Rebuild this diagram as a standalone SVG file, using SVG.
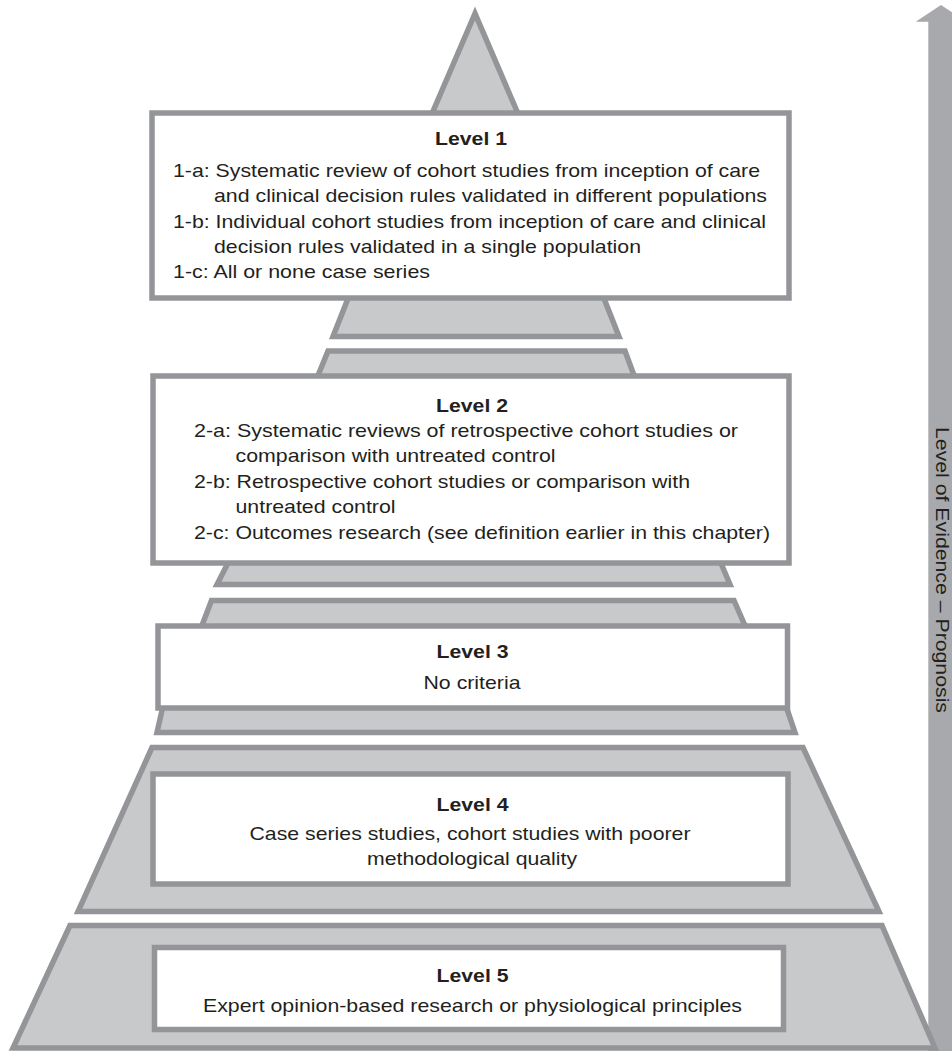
<svg xmlns="http://www.w3.org/2000/svg" width="952" height="1051" viewBox="0 0 952 1051">
<style>
.band{fill:#c8c9cb;stroke:#939598;stroke-width:5.5;stroke-linejoin:miter}
.box{fill:#ffffff;stroke:#939598;stroke-width:5.5}
text{font-family:"Liberation Sans",Arial,sans-serif;font-size:19px;fill:#231f20}
.t{font-weight:bold;text-anchor:middle}
.c{text-anchor:middle}
</style>
<rect x="0" y="0" width="952" height="1051" fill="#ffffff"/>
<g id="connectors">
<polygon points="928.3,1051 928.3,21.7 915.7,21.7 941,5 966,21.7 953.7,21.7 953.7,1051" fill="#a7a9ac"/>
</g>
<g id="axis-label">
<text transform="translate(936,570) rotate(90)" class="c" textLength="286" lengthAdjust="spacingAndGlyphs">Level of Evidence – Prognosis</text>
</g>
<g id="pyramid">
<polygon class="band" points="475,13.5 431,116 519,116"/>
<polygon class="band" points="349,296 333,336.5 619,336.5 603,296"/>
<polygon class="band" points="328,351 317,378 635,378 625,351"/>
<polygon class="band" points="229,561 217,584.5 730,584.5 720,561"/>
<polygon class="band" points="211.5,600.5 201,628 746,628 734,600.5"/>
<polygon class="band" points="163,706 157,732.5 795,732.5 786,706"/>
<polygon class="band" points="152,747.5 78,911.5 879,911.5 803,747.5"/>
<polygon class="band" points="70,925.5 13,1048 935,1048 882,925.5"/>
</g>
<g id="level1">
<rect class="box" x="152" y="113" width="637" height="185"/>
<text class="t" x="471" y="145" textLength="72" lengthAdjust="spacingAndGlyphs">Level 1</text>
<text x="173" y="177" textLength="587" lengthAdjust="spacingAndGlyphs">1-a: Systematic review of cohort studies from inception of care</text>
<text x="214" y="202" textLength="553" lengthAdjust="spacingAndGlyphs">and clinical decision rules validated in different populations</text>
<text x="173" y="228" textLength="593" lengthAdjust="spacingAndGlyphs">1-b: Individual cohort studies from inception of care and clinical</text>
<text x="214" y="253" textLength="427" lengthAdjust="spacingAndGlyphs">decision rules validated in a single population</text>
<text x="173" y="278" textLength="257" lengthAdjust="spacingAndGlyphs">1-c: All or none case series</text>
</g>
<g id="level2">
<rect class="box" x="153" y="376" width="636" height="187"/>
<text class="t" x="472" y="411.5" textLength="72" lengthAdjust="spacingAndGlyphs">Level 2</text>
<text x="194" y="437" textLength="544" lengthAdjust="spacingAndGlyphs">2-a: Systematic reviews of retrospective cohort studies or</text>
<text x="235.5" y="462" textLength="320" lengthAdjust="spacingAndGlyphs">comparison with untreated control</text>
<text x="194" y="488" textLength="496" lengthAdjust="spacingAndGlyphs">2-b: Retrospective cohort studies or comparison with</text>
<text x="235.5" y="513" textLength="160" lengthAdjust="spacingAndGlyphs">untreated control</text>
<text x="194" y="538.5" textLength="576" lengthAdjust="spacingAndGlyphs">2-c: Outcomes research (see definition earlier in this chapter)</text>
</g>
<g id="level3">
<rect class="box" x="158" y="626" width="629.5" height="82"/>
<text class="t" x="472.5" y="658" textLength="72" lengthAdjust="spacingAndGlyphs">Level 3</text>
<text class="c" x="472" y="688.5" textLength="97" lengthAdjust="spacingAndGlyphs">No criteria</text>
</g>
<g id="level4">
<rect class="box" x="153" y="774" width="635" height="110"/>
<text class="t" x="472.5" y="811" textLength="72" lengthAdjust="spacingAndGlyphs">Level 4</text>
<text class="c" x="470" y="840" textLength="441" lengthAdjust="spacingAndGlyphs">Case series studies, cohort studies with poorer</text>
<text class="c" x="472" y="865" textLength="210" lengthAdjust="spacingAndGlyphs">methodological quality</text>
</g>
<g id="level5">
<rect class="box" x="154.5" y="947.5" width="629" height="82"/>
<text class="t" x="472.5" y="981.5" textLength="72" lengthAdjust="spacingAndGlyphs">Level 5</text>
<text class="c" x="472.5" y="1011.5" textLength="539" lengthAdjust="spacingAndGlyphs">Expert opinion-based research or physiological principles</text>
</g>
</svg>
